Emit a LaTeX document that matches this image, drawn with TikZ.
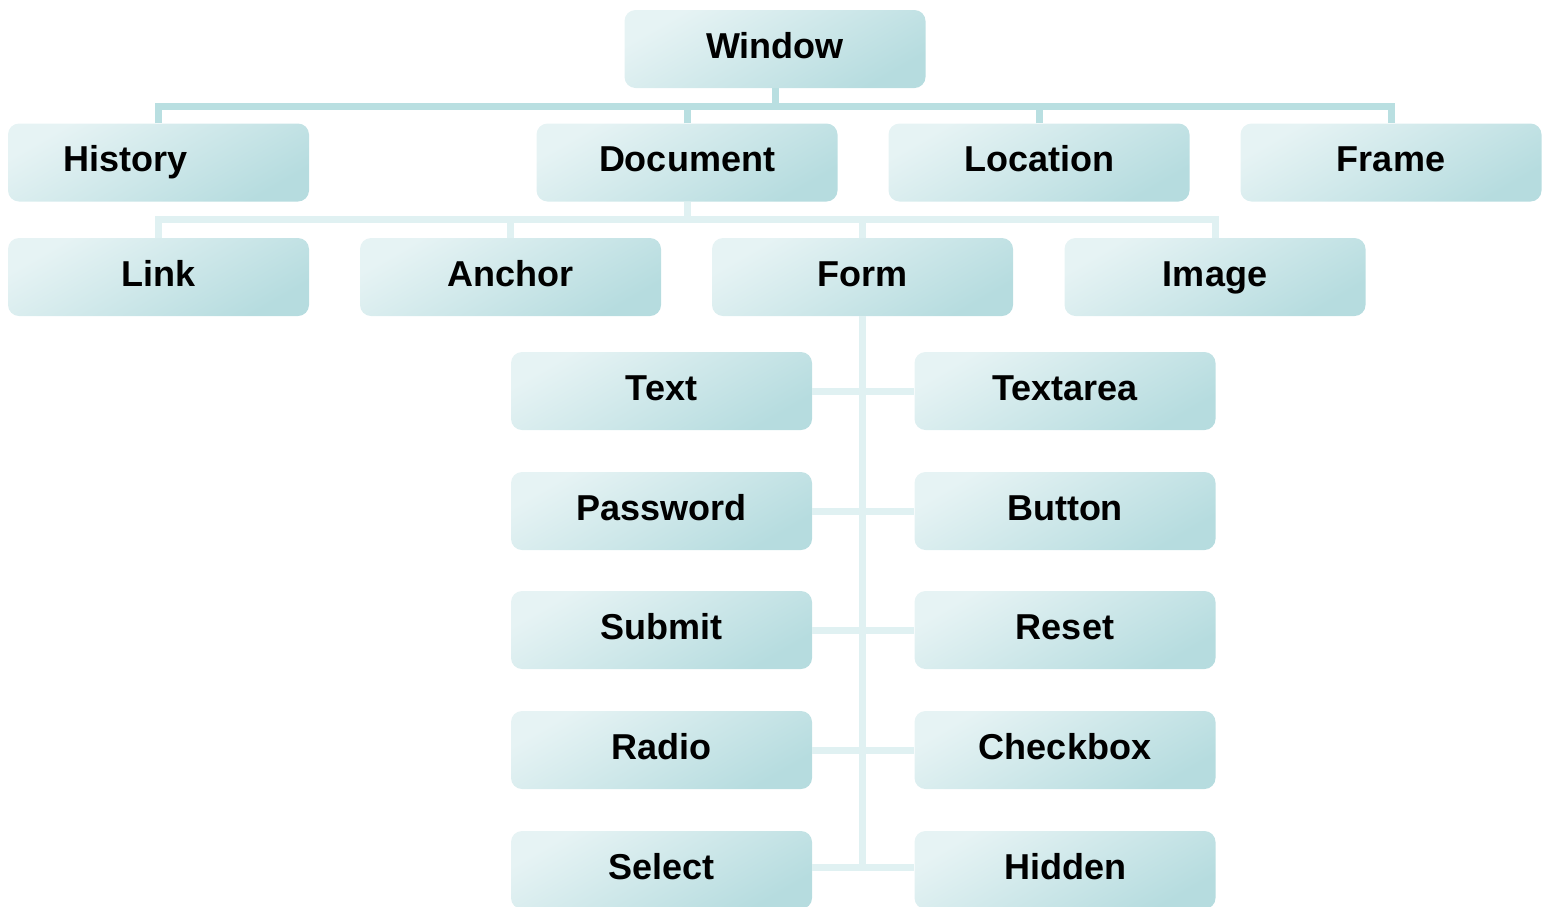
\documentclass[tikz,border=0pt]{standalone}
\usepackage{fontspec}
\setmainfont{Liberation Sans}
\definecolor{boxlight}{HTML}{E6F3F4}
\definecolor{boxmid}{HTML}{E0F0F1}
\definecolor{boxdark}{HTML}{B6DCDF}
\definecolor{busdark}{HTML}{B9DFE1}
\definecolor{buslight}{HTML}{E0F1F2}
\begin{document}
\begin{tikzpicture}[x=1pt,y=-1pt,
  box/.style={rounded corners=11pt, minimum width=301pt, minimum height=78pt,
    inner sep=0pt, shading=axis, top color=boxlight, middle color=boxmid,
    bottom color=boxdark, shading angle=30,
    font=\fontsize{36}{43}\selectfont\bfseries, text height=26pt, text depth=8pt},
  mainbus/.style={draw=busdark, line width=7pt},
  subbus/.style={draw=buslight, line width=7pt}]
\useasboundingbox (0,0) rectangle (1551,906);

% top level
\node[box] (win) at (775,49) {Window};
\node[box] (hist) at (158.5,162.5) {\hspace*{-66pt}History};
\node[box] (doc) at (687,162.5) {Document};
\node[box] (loc) at (1039,162.5) {Location};
\node[box] (frame) at (1391,162.5) {Frame};

% document children
\node[box] (link) at (158.5,277) {Link};
\node[box] (anchor) at (510.5,277) {Anchor};
\node[box] (form) at (862.5,277) {Form};
\node[box] (image) at (1215,277) {Image};

% form elements
\node[box] (text) at (661.5,391) {Text};
\node[box] (textarea) at (1065,391) {Textarea};
\node[box] (password) at (661.5,511) {Password};
\node[box] (button) at (1065,511) {Button};
\node[box] (submit) at (661.5,630) {Submit};
\node[box] (reset) at (1065,630) {Reset};
\node[box] (radio) at (661.5,750) {Radio};
\node[box] (checkbox) at (1065,750) {Checkbox};
\node[box] (select) at (661.5,870) {Select};
\node[box] (hidden) at (1065,870) {Hidden};

% window bus
\coordinate (busA) at (775,106);
\draw[mainbus] (win.south) -- (win.south |- busA);
\draw[mainbus] (hist.north) -- (hist.north |- busA) -- (frame.north |- busA) -- (frame.north);
\draw[mainbus] (doc.north) -- (doc.north |- busA);
\draw[mainbus] (loc.north) -- (loc.north |- busA);

% document bus
\coordinate (busB) at (687,219);
\draw[subbus] (doc.south) -- (doc.south |- busB);
\draw[subbus] (link.north) -- (link.north |- busB) -- (image.north |- busB) -- (image.north);
\draw[subbus] (anchor.north) -- (anchor.north |- busB);
\draw[subbus] (form.north) -- (form.north |- busB);

% form spine and branches
\coordinate (spineEnd) at (862.5,867);
\draw[subbus] (form.south) -- (form.south |- spineEnd);
\draw[subbus] (text.east) -- (textarea.west);
\draw[subbus] (password.east) -- (button.west);
\draw[subbus] (submit.east) -- (reset.west);
\draw[subbus] (radio.east) -- (checkbox.west);
\draw[subbus] (select.east |- spineEnd) -- (hidden.west |- spineEnd);
\end{tikzpicture}
\end{document}
